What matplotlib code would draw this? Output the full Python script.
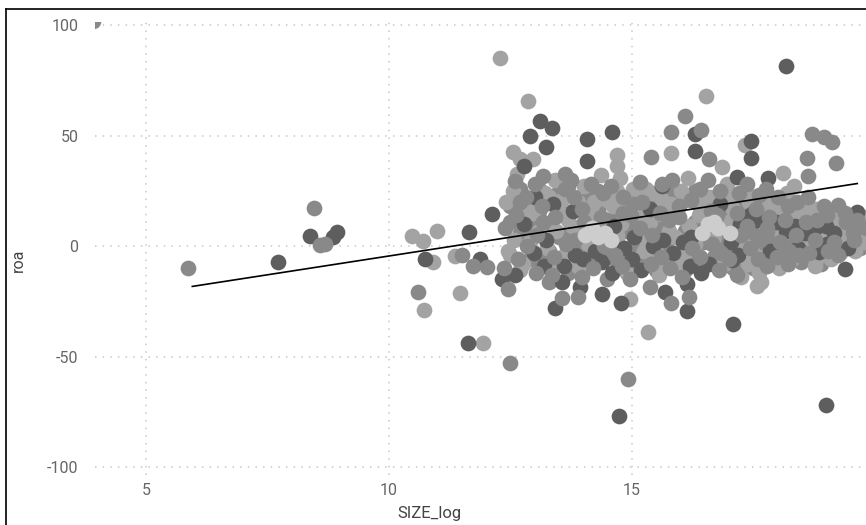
import numpy as np
import matplotlib
matplotlib.use("Agg")
import matplotlib.pyplot as plt
from matplotlib.lines import Line2D

plt.rcParams['font.family'] = ['Roboto', 'DejaVu Sans']
plt.rcParams['axes.unicode_minus'] = False

# points grouped by the grey shade they show in the picture
dark_x = [7.72, 8.37, 8.93, 8.85, 10.74, 11.65, 11.63, 11.87, 12.33, 12.12, 13.42, 13.56, 13.93, 14.40,
          14.79, 14.75, 16.15, 16.15, 15.68, 17.08, 17.06, 18.87, 19.40, 19.01, 13.11, 13.37, 12.90, 13.23,
          14.09, 14.59, 14.09, 12.78, 18.19, 16.30, 16.30, 17.47, 17.47, 17.18, 17.82, 19.65, 17.53, 15.62,
          12.60, 12.78, 12.98, 13.00, 13.20, 13.23, 13.38, 13.60, 13.84, 13.80, 14.00, 14.25, 14.40, 14.60,
          14.63, 14.85, 15.05, 15.00, 15.20, 15.45, 15.37, 15.65, 15.85, 16.05, 16.20, 16.23, 16.43, 16.60,
          16.83, 17.05, 17.20, 17.23, 17.43, 17.58, 17.85, 17.98, 18.18, 18.37, 18.43, 18.58, 18.77, 19.00,
          19.03, 19.17, 19.45]
dark_y = [-7.3, 4.5, 6.4, 4.0, -5.9, 6.4, -44, -5.9, -15, 14.5, -28, -16.4, -18.6, -21.8,
          -25.5, -77, -29.5, -17.3, -20.5, -35, -6.4, -2.7, -10.5, -71.8, 56.4, 53.6, 50, 45,
          48.6, 51.8, 38.6, 36.4, 81.4, 50.5, 43, 47.7, 40, 31.4, 31, 15.5, 15.5, 27.3,
          -13, 10, -3, 22, -9, 3, 19, -9, -4, 16, -6, -2, -7, -12,
          9, -1, 4, -6, -11, 0, 17, 3, -3, 2, -9, 4, -12, -8,
          19, 2, -4, 10, 14, 12, -2, 11, 7, 9, -1, 6, 8, 9,
          1, 6, -1]

mid_x = [5.86, 8.46, 8.68, 8.58, 10.60, 11.50, 11.73, 12.02, 12.45, 12.49, 13.56, 13.89, 14.92, 16.19,
         15.82, 15.37, 12.59, 13.17, 13.62, 12.70, 16.11, 15.82, 16.44, 15.41, 18.72, 18.97, 19.12, 18.62,
         19.22, 18.64, 16.60, 19.26, 3.90,
         12.40, 12.38, 12.62, 12.65, 12.82, 12.85, 13.02, 13.05, 13.03, 13.18, 13.15, 13.40, 13.37, 13.43,
         13.62, 13.64, 13.82, 13.76, 13.83, 13.98, 13.97, 14.03, 14.20, 14.17, 14.42, 14.38, 14.43, 14.65,
         14.57, 14.82, 14.80, 14.83, 14.98, 14.97, 15.03, 15.22, 15.18, 15.17, 15.40, 15.43, 15.62, 15.58,
         15.60, 15.80, 15.77, 15.83, 15.98, 15.97, 16.03, 16.22, 16.25, 16.42, 16.40, 16.65, 16.57, 16.63,
         16.82, 16.85, 16.80, 16.77, 17.00, 17.22, 17.18, 17.25, 17.17, 17.38, 17.45, 17.37, 17.62, 17.65,
         17.60, 17.57, 17.78, 17.80, 17.77, 17.83, 18.02, 18.05, 18.00, 18.22, 18.25, 18.17, 18.23, 18.38,
         18.45, 18.40, 18.65, 18.60, 18.63, 18.82, 18.78, 19.02, 19.05, 18.97, 19.18, 19.25, 19.42, 19.40,
         19.58, 19.65, 19.57, 19.82]
mid_y = [-10.0, 17.3, 1.0, 0.5, -20.5, -4, -9, -9.5, -19.5, -53, -23.6, -23, -60, -23,
         -25.5, -18.6, 29.5, 31.8, 32.7, 20, 59, 51.8, 52.7, 40.5, 50.5, 49.5, 47.3, 40,
         37.7, 31.8, 39.5, 18.6, 101.6,
         8, -10, 14, -6, 22, 0, 28, 5, -12, 11, 18, -5, -13, 13,
         26, 1, 22, 30, 3, 17, -14, 11, -10, 28, 24, 13, 0, -4,
         27, 22, -9, 15, 14, -15, 19, 20, 8, 29, -8, 5, 28, 15,
         -5, -10, 12, 30, 13, 18, -14, 21, -1, 26, -5, 1, 30, 16,
         25, -3, -11, 14, -6, 24, 15, 5, -13, 9, -1, 28, 23, 3,
         -6, 17, 8, -9, 26, 13, 22, 2, -5, 18, -2, 12, -8, 5,
         -4, 20, -3, 11, 22, 12, 3, 14, -2, 18, 2, -4, 11, 15,
         3, 12, 6, 8]

# second layer of the dense block, between the first one
fill_mid_x = [12.50, 12.50, 12.70, 12.70, 12.90, 12.90, 13.10, 13.10, 13.10, 13.30, 13.30, 13.30,
              13.50, 13.50, 13.50, 13.70, 13.70, 13.70, 13.90, 13.90, 14.10, 14.10, 14.10, 14.30, 14.30,
              14.30, 14.50, 14.50, 14.50, 14.70, 14.70, 14.90, 14.90, 15.10, 15.10, 15.10, 15.30, 15.30,
              15.50, 15.50, 15.50, 15.70, 15.70, 15.70, 15.90, 15.90, 15.90, 16.10, 16.10, 16.30, 16.30,
              16.30, 16.50, 16.50, 16.50, 16.70, 16.70, 16.70, 16.90, 16.90, 17.10, 17.10, 17.10, 17.30,
              17.30, 17.30, 17.50, 17.50, 17.70, 17.70, 17.90, 17.90, 17.90, 18.10, 18.10, 18.10, 18.30,
              18.30, 18.50, 18.50, 18.50, 18.70, 18.70, 18.70, 18.90, 18.90, 18.90, 19.10, 19.10, 19.30,
              19.30, 19.30, 19.50, 19.50, 19.70, 19.70]
fill_mid_y = [11, 18, 6, 26, 9, -6, -6, 16, 26, 10, -2, -16,
              4, 17, 25, 6, -12, 27, 0, 7, -3, 22, 14, -6, 17,
              25, -1, -15, 12, -7, 13, 7, -3, 1, -9, 10, -5, 16,
              8, -11, 19, 9, 24, 0, -6, 16, 23, 7, -11, -7, 11,
              25, 2, -9, 22, -5, 20, 13, 2, 17, 8, -2, -10, -8,
              12, 20, 6, -10, 0, 21, 4, -7, 17, -3, 14, 20, 2,
              10, -7, 13, 18, 1, -2, 14, 0, 6, -8, 3, 8, 1,
              9, 13, 5, 0, 10, -1]
fill_light_x = [12.50, 12.70, 12.90, 12.90, 13.10, 13.30, 13.50, 13.70, 13.90, 13.90, 14.10, 14.30,
                14.50, 14.70, 14.70, 14.90, 14.90, 15.10, 15.30, 15.30, 15.50, 15.70, 15.90, 16.10,
                16.10, 16.30, 16.50, 16.70, 16.90, 16.90, 17.10, 17.30, 17.50, 17.50, 17.70, 17.70,
                17.90, 18.10, 18.30, 18.30, 18.50, 18.70, 18.90, 19.10, 19.10, 19.30, 19.50, 19.70]
fill_light_y = [-4, -11, 19, 2, 7, 22, -8, 12, -9, 20, 1, 10,
                21, 5, 25, 18, -12, 23, 3, 26, -2, -8, 4, 21,
                -3, 1, 16, 4, -8, 24, 17, 1, -3, 22, -5, 15,
                10, 5, -6, 16, 3, 9, 11, -6, 16, -3, 10, 4]

light_x = [10.47, 10.70, 10.99, 10.91, 10.72, 11.36, 11.46, 11.93, 14.96, 15.33, 17.26, 17.59, 17.67, 18.77,
           12.28, 12.86, 14.69, 14.71, 12.55, 12.70, 12.96, 12.63, 16.54, 15.82, 17.33, 18.11, 18.35, 16.87,
           14.71,
           12.45, 12.42, 12.58, 12.55, 12.76, 12.83, 12.97, 13.22, 13.25, 13.42, 13.45, 13.58, 13.57, 13.65,
           13.78, 14.02, 14.22, 14.23, 14.37, 14.62, 14.78, 14.77, 15.02, 15.25, 15.23, 15.42, 15.38, 15.57,
           15.63, 15.82, 15.78, 16.02, 16.00, 16.18, 16.17, 16.38, 16.37, 16.62, 17.02, 16.98, 16.97, 17.42,
           17.40, 17.63, 17.82, 17.97, 18.03, 18.20, 18.42, 18.62, 18.57, 18.85, 18.80, 18.98, 19.22, 19.20,
           19.38, 19.37, 19.62, 19.60, 19.78, 19.80]
light_y = [4.5, 2.3, 6.8, -7.3, -29, -4.5, -21.4, -43.6, -24, -39, -14, -18.2, -16, -9,
           85, 65.5, 41, 36.4, 42.7, 39.5, 39.5, 32.7, 68, 42.3, 45.5, 33.2, 27.3, 36,
           2.7,
           -2, 20, 3, 25, -8, 17, 15, 24, -1, 30, 7, 14, 21, -3,
           9, 27, 20, 14, 32, 18, 10, 31, 26, -2, 13, 24, 11, -13,
           21, 19, 7, 25, -7, 9, 31, 14, 19, 22, 21, 11, 28, 20,
           -8, -12, 19, 16, -10, 24, 14, 16, 1, -5, 17, 5, 10, 13,
           4, 7, 9, -2, 2, 13]

pale_x = [14.05, 14.18, 14.30, 14.45, 14.58, 16.45, 16.58, 16.70, 16.78, 17.03]
pale_y = [5, 8, 4, 6, 3, 6, 10, 11, 8, 6]

# fitted trend line
trend_x = [5.95, 19.65]
trend_y = [-18.2, 28.3]

fig = plt.figure(figsize=(8.66, 5.25), dpi=100)
ax = fig.add_axes([0.11, 0.095, 0.89, 0.863])

# draw order gives the layered look of the cloud
groups = [(fill_mid_x, fill_mid_y, '#898989'),
          (light_x + fill_light_x, light_y + fill_light_y, '#a3a3a3'),
          (dark_x, dark_y, '#5e5e5e'),
          (mid_x, mid_y, '#898989'),
          (pale_x, pale_y, '#cdcdcd')]
for gx, gy, col in groups:
    ax.scatter(gx, gy, s=128, color=col, linewidths=0, zorder=2)

ax.plot(trend_x, trend_y, color='black', lw=1.2, zorder=3)

ax.set_xlim(3.95, 19.83)
ax.set_ylim(-103.5, 101.3)
ax.set_xticks([5, 10, 15])
ax.set_yticks([-100, -50, 0, 50, 100])
ax.grid(True, color='#c8c8c8', linestyle=(0, (1, 4)), linewidth=1.1, zorder=0)
for s in ax.spines.values():
    s.set_visible(False)
ax.tick_params(length=0, colors='#666666', labelsize=11.5)
ax.tick_params(axis='y', pad=12)
ax.tick_params(axis='x', pad=6)
ax.set_xlabel('SIZE_log', fontsize=12, color='#444444')
ax.set_ylabel('roa', fontsize=11.5, color='#444444')
ax.xaxis.set_label_coords(0.434, -0.068)
ax.yaxis.set_label_coords(-0.09, 0.475)

# screenshot frame on the left and top edges
fig.add_artist(Line2D([0.007, 0.007], [0, 0.983], transform=fig.transFigure, color='black', lw=1.2))
fig.add_artist(Line2D([0.007, 1.0], [0.983, 0.983], transform=fig.transFigure, color='black', lw=1.2))

fig.savefig('out.png', dpi=100)
